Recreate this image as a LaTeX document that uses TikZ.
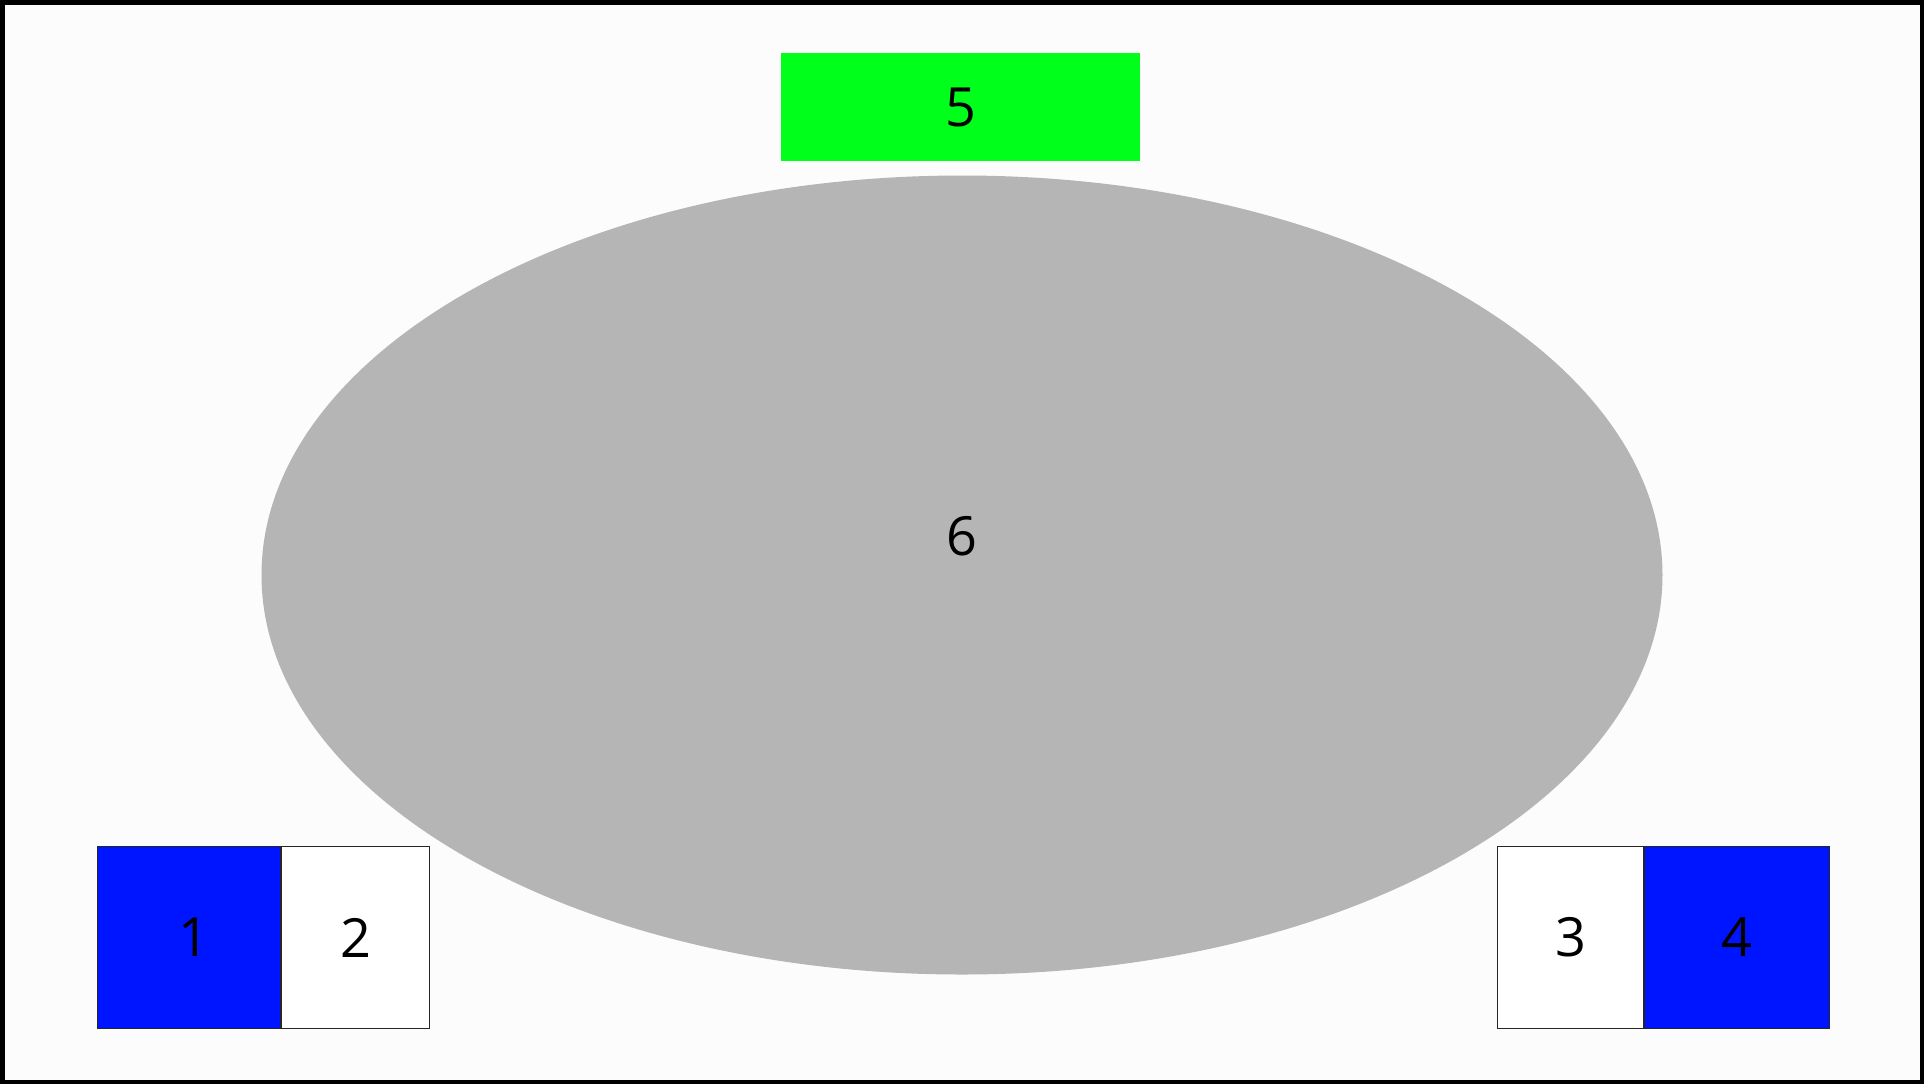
\documentclass[tikz,border=0pt]{standalone}
\usepackage{fontspec}
\setmainfont{Open Sans}
\usetikzlibrary{shapes.geometric,positioning}
\definecolor{paper}{HTML}{FCFCFC}
\definecolor{seatblue}{HTML}{0015FF}
\definecolor{stagegreen}{HTML}{00FF1A}
\definecolor{tablegray}{HTML}{B5B5B5}
\begin{document}
\begin{tikzpicture}[x=0.5pt,y=-0.5pt,
        num/.style={font=\fontsize{27}{32}\selectfont},
        cell/.style={num,draw=black!85,line width=0.6pt,inner sep=0pt,minimum height=91pt}]
        % Draw paper background
        \draw[fill=paper,line width=2.25pt] (2.25,2.25) rectangle (1921.75,1081.75);
        \useasboundingbox (0,0) rectangle (1924,1084);
        % Draw table
        \node[ellipse,fill=tablegray,inner sep=0pt,minimum width=700.5pt,minimum height=399.5pt] (table) at (962,575) {};
        \node[num] (tablelabel) at (962,536) {6};
        % Draw stage
        \node[num,fill=stagegreen,inner sep=0pt,minimum width=179.5pt,minimum height=54pt] (stage) at (960.5,107) {5};
        % Draw left desk
        \node[cell,fill=seatblue,minimum width=91.5pt,anchor=north west] (seat1) at (97,846) {\hspace{5pt}1};
        \node[cell,fill=white,minimum width=74pt,right=0pt of seat1] (seat2) {2};
        % Draw right desk
        \node[cell,fill=white,minimum width=73pt,anchor=north west] (seat3) at (1497,846) {3};
        \node[cell,fill=seatblue,minimum width=92.5pt,right=0pt of seat3] (seat4) {4};
    \end{tikzpicture}
\end{document}
